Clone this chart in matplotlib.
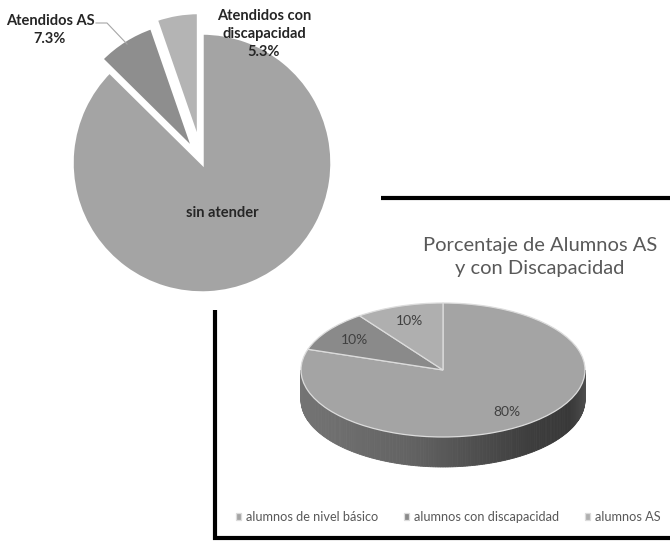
import numpy as np
import matplotlib.pyplot as plt
from matplotlib.transforms import Affine2D
from matplotlib.patches import Polygon

plt.rcParams['font.family'] = ['Lato', 'DejaVu Sans']

# top chart (exploded pie)
top_labels = ['Atendidos con\ndiscapacidad', 'Atendidos AS', 'sin atender']
top_values = [5.3, 7.3, 87.4]
top_colors = ['#b4b4b4', '#8e8e8e', '#a4a4a4']
top_explode = [0.16, 0.115, 0.0]

# bottom chart (3D pie)
chart_title = 'Porcentaje de Alumnos AS\ny con Discapacidad'
cats = ['alumnos de nivel básico', 'alumnos con discapacidad', 'alumnos AS']
vals = [80, 10, 10]
cat_colors = ['#a4a4a4', '#8a8a8a', '#afafaf']

W, H = 670, 542
fig = plt.figure(figsize=(W / 100, H / 100), dpi=100)
ax = fig.add_axes([0, 0, 1, 1])

# ---- exploded pie, top left
cx1, cy1, r1 = 202, 163, 130
tr1 = Affine2D().scale(r1, -r1).translate(cx1, cy1) + ax.transData
wedges1, _ = ax.pie(top_values, colors=top_colors, startangle=90, counterclock=True,
                    explode=top_explode,
                    wedgeprops=dict(edgecolor='white', linewidth=2.5))
for w in wedges1:
    w.set_transform(tr1)

lab_pos = {0: (264, 34), 1: (50, 30)}
for i, (lab, v) in enumerate(zip(top_labels, top_values)):
    if i == 2:
        ax.text(222, 213, lab, ha='center', va='center', fontsize=10.5,
                fontweight='bold', color='#262626')
        continue
    x, y = lab_pos[i]
    ax.text(x, y, f'{lab}\n{v:.1f}%', ha='center', va='center', fontsize=10.5,
            fontweight='bold', color='#262626', linespacing=1.35)

# leader line for "Atendidos AS"
w = wedges1[1]
mid = np.deg2rad((w.theta1 + w.theta2) / 2)
off = top_explode[1]
px = cx1 + r1 * (1 + off) * 0.97 * np.cos(mid)
py = cy1 - r1 * (1 + off) * 0.97 * np.sin(mid)
ax.plot([96, 107, px], [23, 23, py], color='#a6a6a6', lw=0.8)

# ---- 3D pie, bottom right
cx2, cy2, rx, ry, depth = 443, 370, 142, 67, 30
tr2 = Affine2D().scale(rx, -ry).translate(cx2, cy2) + ax.transData

# side wall with gradient
n = 180
t = np.deg2rad(np.linspace(180, 360, n + 1))
dy = depth / ry
for k in range(n):
    xa, xb = np.cos(t[k]), np.cos(t[k + 1])
    ya, yb = np.sin(t[k]), np.sin(t[k + 1])
    g = np.interp((xa + xb) / 2, [-1, -0.2, 0.6, 0.9, 1.0], [0x74, 0x62, 0x3e, 0x38, 0x4c]) / 255
    poly = Polygon([(xa, ya), (xb, yb), (xb, yb - dy), (xa, ya - dy)], closed=True,
                   facecolor=(g, g, g), edgecolor=(g, g, g), lw=0.6, transform=tr2)
    ax.add_patch(poly)

wedges2, _ = ax.pie(vals, colors=cat_colors, startangle=90, counterclock=False,
                    wedgeprops=dict(edgecolor='#dcdcdc', linewidth=0.9))
for w in wedges2:
    w.set_transform(tr2)
    w.set_zorder(3)
    m = np.deg2rad((w.theta1 + w.theta2) / 2)
    frac = (w.theta2 - w.theta1) / 360
    lx = cx2 + 0.77 * rx * np.cos(m)
    ly = cy2 - 0.77 * ry * np.sin(m)
    ax.text(lx, ly, f'{frac * 100:.0f}%', ha='center', va='center', fontsize=10,
            color='#404040', zorder=4)

ax.text(540, 257, chart_title, ha='center', va='center', fontsize=14.5,
        color='#595959', linespacing=1.38)

leg = fig.legend(wedges2, cats, loc='center', bbox_to_anchor=(448 / W, 1 - 517 / H),
                 ncol=3, frameon=False, fontsize=9.2, handlelength=0.45,
                 handleheight=0.45, handletextpad=0.35, columnspacing=2.0,
                 borderpad=0.1, labelcolor='#595959')

# black frame around the second chart
ax.plot([381, W], [198, 198], color='black', lw=3, solid_capstyle='butt')
ax.plot([215, 215], [310, 540], color='black', lw=3, solid_capstyle='butt')
ax.plot([213, W], [538, 538], color='black', lw=3, solid_capstyle='butt')

ax.set_xlim(0, W)
ax.set_ylim(H, 0)
ax.set_aspect('auto')
ax.axis('off')

fig.savefig('out.png', dpi=100, facecolor='white')
